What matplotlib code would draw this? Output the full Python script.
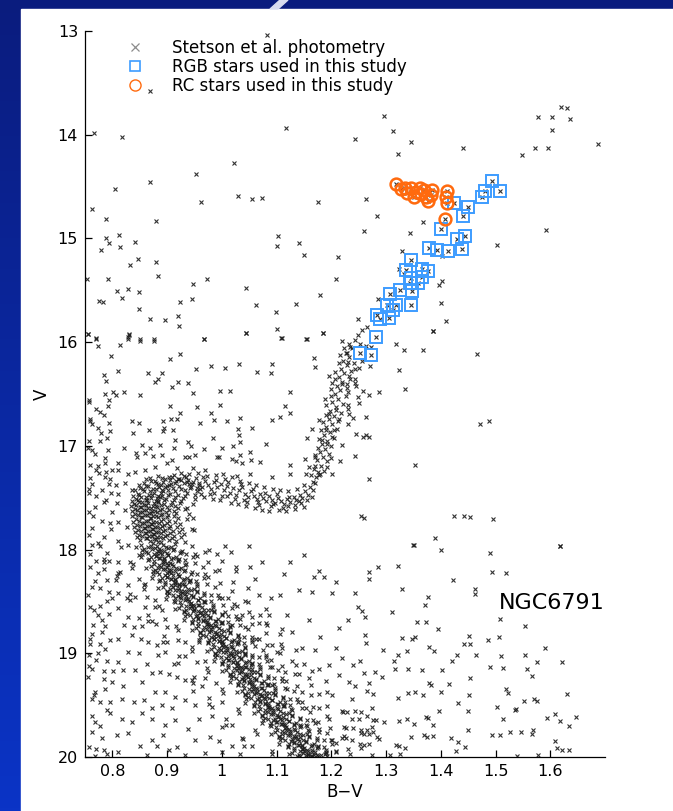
import numpy as np
import matplotlib

matplotlib.use("Agg")
import matplotlib.pyplot as plt
from matplotlib.lines import Line2D
from matplotlib.patches import Rectangle, Polygon

# ---- data: (B-V, V) ----
upper_field = [
    (1.083, 13.04), (0.869, 13.58),
    (0.767, 13.98), (0.818, 14.02), (1.118, 13.94), (1.023, 14.27), (0.952, 14.38), (0.868, 14.46),
    (0.804, 14.52), (1.030, 14.59), (1.056, 14.62), (1.074, 14.61), (0.962, 14.65), (1.176, 14.65),
    (0.763, 14.72), (0.788, 14.81), (0.879, 14.83), (0.812, 14.97), (0.788, 15.00), (0.793, 15.04),
    (0.842, 15.03), (0.814, 15.08), (0.779, 15.11), (1.103, 14.98), (1.101, 15.07), (1.141, 15.04),
    (1.150, 15.16), (1.213, 15.18), (0.846, 15.20), (0.832, 15.26), (0.879, 15.23), (0.883, 15.36),
    (0.754, 15.39), (0.792, 15.39), (0.948, 15.44), (0.973, 15.39), (1.044, 15.48), (1.209, 15.39),
    (0.808, 15.51), (0.828, 15.49), (0.848, 15.52), (0.817, 15.57), (0.775, 15.60), (0.782, 15.61),
    (0.923, 15.61), (0.945, 15.58), (1.063, 15.64), (1.135, 15.63), (1.179, 15.55), (0.848, 15.68),
    (1.099, 15.71), (0.869, 15.78), (0.897, 15.79), (0.920, 15.75), (0.922, 15.84), (1.100, 15.87),
    (0.755, 15.92), (0.830, 15.93), (1.045, 15.91), (1.184, 15.91), (0.771, 15.96), (0.828, 15.97),
    (0.851, 15.97), (0.876, 15.97), (0.968, 15.97), (1.108, 15.96), (1.154, 15.97),
    (1.297, 13.82), (1.313, 13.96), (1.244, 14.04), (1.346, 14.07), (1.322, 14.19), (1.440, 14.13),
    (1.548, 14.20), (1.572, 14.13), (1.596, 14.13), (1.578, 13.83), (1.603, 13.83), (1.619, 13.73),
    (1.631, 13.74), (1.636, 13.85), (1.603, 13.95), (1.687, 14.09), (1.263, 14.62), (1.283, 14.78),
    (1.260, 14.93), (1.344, 14.95), (1.367, 14.84), (1.329, 15.12), (1.403, 15.17), (1.592, 14.92),
    (1.503, 15.06), (1.324, 15.29), (1.333, 15.34), (1.403, 15.41), (1.397, 15.45), (1.285, 15.58),
    (1.401, 15.62), (1.248, 15.78), (1.266, 15.85), (1.385, 15.89), (1.409, 15.80),
]

mid_field = [
    (0.756, 15.92), (0.771, 15.97), (0.774, 16.04), (0.814, 16.03), (0.829, 15.95), (0.831, 15.92),
    (0.851, 15.99), (0.876, 15.99), (0.968, 15.97), (1.045, 15.91), (1.109, 15.96), (1.155, 15.97),
    (1.185, 15.91), (1.220, 15.99), (0.798, 16.13), (0.923, 16.11), (0.906, 16.16), (0.811, 16.28),
    (0.784, 16.32), (0.788, 16.37), (0.866, 16.30), (0.890, 16.30), (0.877, 16.38), (0.884, 16.36),
    (0.920, 16.38), (0.938, 16.39), (0.953, 16.26), (0.980, 16.23), (1.005, 16.25), (1.032, 16.21),
    (1.064, 16.29), (1.089, 16.30), (1.092, 16.21), (1.168, 16.15), (1.171, 16.24), (1.196, 16.33),
    (1.202, 16.39), (1.219, 16.40), (0.757, 16.56), (0.787, 16.50), (0.802, 16.48), (0.806, 16.51),
    (0.822, 16.48), (0.793, 16.56), (0.792, 16.62), (0.777, 16.67), (0.759, 16.74), (0.851, 16.51),
    (0.909, 16.43), (0.948, 16.49), (0.997, 16.47), (1.014, 16.47), (0.906, 16.62), (0.923, 16.68),
    (0.955, 16.63), (0.981, 16.68), (0.997, 16.61), (1.116, 16.62), (1.125, 16.68), (1.124, 16.48),
    (1.188, 16.55), (1.196, 16.69), (1.208, 16.65), (1.214, 16.74), (1.107, 16.72), (1.092, 16.75),
    (0.759, 16.76), (0.774, 16.83), (0.793, 16.78), (0.796, 16.86), (0.835, 16.76), (0.848, 16.78),
    (0.837, 16.88), (0.867, 16.85), (0.892, 16.76), (0.908, 16.74), (0.918, 16.74), (0.895, 16.83),
    (0.893, 16.86), (0.910, 16.85), (0.961, 16.78), (0.985, 16.75), (1.009, 16.76), (1.034, 16.73),
    (1.030, 16.84), (1.055, 16.83), (1.031, 16.90), (0.984, 16.92), (1.020, 17.00), (1.000, 17.02),
    (1.034, 16.96), (1.081, 16.98), (1.155, 16.92), (1.165, 16.84), (1.177, 16.75), (1.190, 16.85),
    (1.205, 16.85), (1.193, 16.98), (1.202, 16.91), (1.183, 16.94), (1.220, 16.99), (0.758, 16.95),
    (0.777, 16.95), (0.792, 17.04), (0.762, 17.04), (0.821, 17.02), (0.855, 16.99), (0.869, 17.02),
    (0.887, 16.99), (0.912, 17.02), (0.914, 16.94), (0.939, 16.96), (0.944, 17.00), (0.843, 17.07),
    (0.845, 17.11), (0.860, 17.07), (0.875, 17.10), (0.890, 17.09), (0.900, 17.17), (0.909, 17.14),
    (0.918, 17.21), (0.933, 17.11), (0.940, 17.11), (0.951, 17.09), (0.967, 17.03), (0.991, 17.11),
    (0.995, 17.11), (1.019, 17.13), (1.034, 17.09), (1.025, 17.15), (1.037, 17.17), (1.052, 17.06),
    (1.054, 17.14), (1.070, 17.16), (1.125, 17.18), (1.152, 17.13), (1.170, 17.11), (1.171, 17.19),
    (1.193, 17.20), (1.199, 17.12), (1.215, 17.15), (0.774, 17.19), (0.787, 17.17), (0.811, 17.17),
    (0.771, 17.23), (0.799, 17.23), (0.811, 17.23), (0.788, 17.25), (0.829, 17.27), (0.842, 17.25),
    (0.860, 17.23), (0.878, 17.20), (0.948, 17.21), (0.970, 17.23), (1.002, 17.27), (1.028, 17.29),
    (1.052, 17.27), (1.092, 17.30), (1.125, 17.27), (1.153, 17.27), (1.177, 17.28), (1.202, 17.27),
    (0.759, 17.31), (0.787, 17.30), (0.762, 17.37), (0.793, 17.37), (0.806, 17.38), (0.823, 17.36),
    (0.757, 17.45), (0.781, 17.43), (0.798, 17.45), (0.811, 17.46), (0.835, 17.43), (0.784, 17.54),
    (0.808, 17.55), (0.768, 17.59), (0.823, 17.62), (0.757, 17.64), (0.799, 17.64), (0.796, 17.74),
    (0.811, 17.73), (0.762, 17.79), (0.826, 17.78), (0.784, 17.88), (0.811, 17.92), (0.762, 17.96),
    (0.829, 17.96), (0.777, 17.97),
    (0.758, 16.58), (0.771, 16.64), (0.784, 16.70), (0.763, 16.79), (0.779, 16.88), (0.791, 16.92),
    (0.756, 17.02), (0.768, 17.08), (0.787, 17.12), (0.760, 17.18), (0.775, 17.26), (0.795, 17.32),
    (0.757, 17.42), (0.771, 17.48), (0.789, 17.52), (0.764, 17.68), (0.781, 17.72), (0.797, 17.80),
    (0.758, 17.86), (0.774, 17.94),
    (1.385, 15.89), (1.235, 16.05), (1.229, 16.10), (1.264, 16.04), (1.272, 16.05), (1.319, 16.02),
    (1.332, 16.08), (1.368, 16.08), (1.467, 16.11), (1.230, 16.19), (1.256, 16.18), (1.271, 16.23),
    (1.244, 16.26), (1.250, 16.25), (1.324, 16.27), (1.233, 16.33), (1.243, 16.36), (1.244, 16.39),
    (1.246, 16.42), (1.229, 16.40), (1.334, 16.45), (1.231, 16.48), (1.258, 16.47), (1.269, 16.51),
    (1.288, 16.48), (1.249, 16.53), (1.251, 16.59), (1.231, 16.61), (1.231, 16.64), (1.233, 16.69),
    (1.239, 16.73), (1.264, 16.72), (1.231, 16.79), (1.471, 16.79), (1.488, 16.76), (1.246, 16.89),
    (1.258, 16.91), (1.263, 16.90), (1.268, 16.91), (1.243, 17.10), (1.352, 17.18), (1.269, 17.32),
    (1.255, 17.68), (1.260, 17.70), (1.425, 17.68), (1.442, 17.68), (1.453, 17.69), (1.495, 17.71),
    (1.390, 17.89), (1.350, 17.96), (1.617, 17.97),
]

low_field = [
    (0.771, 18.11), (0.759, 18.17), (0.784, 18.12), (0.793, 18.11), (0.811, 18.12), (0.832, 18.12),
    (0.848, 18.05), (0.774, 18.23), (0.790, 18.29), (0.808, 18.25), (0.814, 18.22), (0.848, 18.28),
    (0.860, 18.33), (0.829, 18.34), (0.762, 18.36), (0.777, 18.37), (0.793, 18.41), (0.811, 18.42),
    (0.799, 18.47), (0.826, 18.47), (0.842, 18.46), (0.863, 18.46), (0.878, 18.49), (0.759, 18.55),
    (0.777, 18.54), (0.811, 18.56), (0.860, 18.55), (0.878, 18.55), (0.774, 18.63), (0.793, 18.62),
    (0.829, 18.65), (0.848, 18.66), (0.872, 18.69), (0.897, 18.67), (0.765, 18.73), (0.787, 18.74),
    (0.822, 18.73), (0.839, 18.75), (0.855, 18.74), (0.879, 18.72), (0.900, 18.75), (0.762, 18.81),
    (0.781, 18.79), (0.796, 18.87), (0.811, 18.86), (0.759, 18.91), (0.777, 18.91), (0.835, 18.82),
    (0.853, 18.86), (0.866, 18.89), (0.881, 18.92), (0.900, 18.89), (0.920, 18.87), (0.933, 18.89),
    (0.958, 18.89), (0.757, 19.02), (0.774, 19.00), (0.790, 19.07), (0.811, 19.08), (0.828, 18.99),
    (0.848, 19.00), (0.863, 19.10), (0.884, 19.02), (0.897, 18.99), (0.912, 19.10), (0.932, 19.03),
    (0.955, 19.08), (0.970, 19.07), (0.762, 19.15), (0.784, 19.17), (0.802, 19.17), (0.820, 19.16),
    (0.842, 19.16), (0.872, 19.19), (0.887, 19.18), (0.903, 19.20), (0.918, 19.23), (0.932, 19.26),
    (0.945, 19.26), (0.970, 19.24), (0.989, 19.29), (0.756, 19.23), (0.768, 19.37), (0.787, 19.34),
    (0.799, 19.28), (0.820, 19.32), (0.854, 19.28), (0.878, 19.37), (0.897, 19.37), (0.914, 19.42),
    (0.948, 19.36), (0.964, 19.32), (0.762, 19.44), (0.777, 19.47), (0.796, 19.47), (0.817, 19.44),
    (0.839, 19.47), (0.857, 19.45), (0.872, 19.53), (0.890, 19.50), (0.909, 19.53), (0.933, 19.45),
    (0.951, 19.50), (0.982, 19.52), (1.000, 19.47), (0.768, 19.66), (0.796, 19.58), (0.817, 19.63),
    (0.835, 19.66), (0.854, 19.58), (0.872, 19.63), (0.897, 19.69), (0.915, 19.64), (0.939, 19.73),
    (0.958, 19.63), (0.982, 19.60), (1.000, 19.71), (1.019, 19.69), (0.762, 19.76), (0.781, 19.82),
    (0.808, 19.79), (0.829, 19.77), (0.851, 19.89), (0.872, 19.84), (0.881, 19.89), (0.893, 19.79),
    (0.918, 19.90), (0.951, 19.84), (0.979, 19.81), (0.994, 19.85), (1.019, 19.89), (1.037, 19.82),
    (1.055, 19.89), (0.771, 19.92), (0.790, 19.97), (0.811, 19.95), (0.863, 19.98), (0.903, 19.93),
    (0.933, 19.98), (0.970, 19.96), (1.000, 19.95), (1.034, 19.97), (1.092, 19.97),
    (0.760, 18.04), (0.785, 18.19), (0.769, 18.30), (0.756, 18.44), (0.790, 18.50), (0.767, 18.58),
    (0.781, 18.68), (0.759, 18.86), (0.786, 18.96), (0.771, 19.06), (0.757, 19.12), (0.784, 19.25),
    (0.766, 19.40), (0.791, 19.55), (0.762, 19.60), (0.778, 19.70), (0.757, 19.90), (0.785, 19.93),
    (0.769, 19.99),
    (0.927, 18.01), (0.970, 18.02), (0.991, 18.04), (1.016, 18.02), (1.049, 17.97), (1.074, 18.12),
    (1.125, 18.12), (1.150, 18.05), (1.177, 18.21), (1.186, 18.26), (1.208, 18.31), (0.988, 18.21),
    (1.025, 18.21), (1.052, 18.17), (1.061, 18.28), (1.113, 18.24), (1.168, 18.26), (1.202, 18.42),
    (1.141, 18.39), (1.165, 18.41), (1.107, 18.44), (1.089, 18.47), (1.067, 18.44), (1.043, 18.50),
    (1.028, 18.54), (1.012, 18.47), (1.006, 18.60), (1.037, 18.63), (1.055, 18.65), (1.070, 18.63),
    (1.086, 18.63), (1.119, 18.63), (1.159, 18.68), (1.180, 18.84), (1.214, 18.76), (1.019, 18.73),
    (1.043, 18.75), (1.067, 18.71), (1.083, 18.73), (1.107, 18.81), (1.128, 18.79), (1.031, 18.86),
    (1.055, 18.89), (1.067, 18.86), (1.092, 18.92), (1.110, 18.95), (1.147, 18.95), (1.171, 18.97),
    (1.208, 18.95), (1.220, 19.05), (1.043, 19.02), (1.080, 19.02), (1.101, 18.99), (1.128, 19.07),
    (1.150, 19.10), (1.177, 19.15), (1.196, 19.11), (1.214, 19.21), (1.055, 19.15), (1.092, 19.13),
    (1.116, 19.18), (1.141, 19.20), (1.159, 19.24), (1.190, 19.27), (1.092, 19.31), (1.119, 19.34),
    (1.147, 19.37), (1.177, 19.39), (1.202, 19.40), (1.116, 19.47), (1.153, 19.53), (1.177, 19.53),
    (1.196, 19.63), (1.220, 19.56), (1.153, 19.69), (1.177, 19.76), (1.202, 19.84), (1.220, 19.82),
    (1.190, 19.95), (1.208, 19.95), (1.147, 19.92),
    (1.351, 17.96), (1.401, 18.00), (1.489, 18.03), (1.618, 17.97), (1.286, 18.17), (1.269, 18.22),
    (1.269, 18.28), (1.322, 18.16), (1.493, 18.22), (1.520, 18.23), (1.244, 18.42), (1.329, 18.38),
    (1.422, 18.29), (1.463, 18.38), (1.462, 18.43), (1.249, 18.55), (1.256, 18.59), (1.311, 18.60),
    (1.376, 18.46), (1.371, 18.53), (1.231, 18.68), (1.261, 18.65), (1.356, 18.70), (1.373, 18.70),
    (1.394, 18.77), (1.508, 18.67), (1.554, 18.74), (1.261, 18.82), (1.263, 18.90), (1.329, 18.85),
    (1.348, 18.86), (1.352, 18.84), (1.451, 18.83), (1.443, 18.91), (1.454, 18.91), (1.487, 18.87),
    (1.506, 18.84), (1.294, 18.97), (1.338, 18.98), (1.379, 18.94), (1.387, 18.98), (1.429, 19.02),
    (1.465, 19.02), (1.590, 18.95), (1.239, 19.11), (1.253, 19.07), (1.315, 19.07), (1.322, 19.02),
    (1.316, 19.15), (1.341, 19.15), (1.366, 19.16), (1.403, 19.16), (1.421, 19.07), (1.490, 19.13),
    (1.510, 19.03), (1.513, 19.14), (1.553, 19.02), (1.575, 19.08), (1.622, 19.08), (1.557, 19.15),
    (1.260, 19.19), (1.280, 19.18), (1.292, 19.23), (1.454, 19.24), (1.567, 19.22), (1.232, 19.28),
    (1.244, 19.32), (1.268, 19.29), (1.266, 19.36), (1.276, 19.39), (1.340, 19.38), (1.353, 19.37),
    (1.368, 19.40), (1.379, 19.29), (1.383, 19.31), (1.400, 19.37), (1.415, 19.30), (1.451, 19.40),
    (1.322, 19.43), (1.520, 19.34), (1.523, 19.38), (1.571, 19.44), (1.575, 19.46), (1.552, 19.46),
    (1.631, 19.39), (1.237, 19.44), (1.275, 19.53), (1.432, 19.48), (1.502, 19.52), (1.537, 19.54),
    (1.536, 19.55), (1.229, 19.57), (1.244, 19.56), (1.255, 19.57), (1.266, 19.60), (1.276, 19.64),
    (1.238, 19.63), (1.250, 19.63), (1.282, 19.64), (1.297, 19.66), (1.324, 19.65), (1.338, 19.63),
    (1.351, 19.68), (1.373, 19.61), (1.376, 19.62), (1.396, 19.56), (1.386, 19.69), (1.449, 19.56),
    (1.513, 19.63), (1.594, 19.62), (1.608, 19.59), (1.617, 19.65), (1.635, 19.70), (1.647, 19.61),
    (1.226, 19.72), (1.239, 19.72), (1.255, 19.74), (1.266, 19.74), (1.275, 19.71), (1.260, 19.78),
    (1.268, 19.78), (1.276, 19.76), (1.345, 19.81), (1.374, 19.81), (1.370, 19.79), (1.386, 19.80),
    (1.418, 19.82), (1.432, 19.86), (1.449, 19.74), (1.493, 19.79), (1.508, 19.79), (1.526, 19.76),
    (1.547, 19.76), (1.568, 19.74), (1.567, 19.78), (1.608, 19.85), (1.226, 19.82), (1.238, 19.84),
    (1.252, 19.87), (1.260, 19.88), (1.268, 19.87), (1.284, 19.81), (1.287, 19.83), (1.318, 19.88),
    (1.324, 19.89), (1.334, 19.91), (1.427, 19.94), (1.445, 19.90), (1.612, 19.91), (1.622, 19.93),
    (1.634, 19.93), (1.235, 19.97), (1.274, 19.98), (1.308, 19.98), (1.326, 19.97), (1.539, 19.99),
    (1.578, 19.98),
]

turnoff = [
    (0.868, 17.31), (0.884, 17.29), (0.897, 17.32), (0.909, 17.30), (0.925, 17.33),
    (0.857, 17.36), (0.871, 17.34), (0.883, 17.37), (0.892, 17.35), (0.903, 17.38), (0.916, 17.34), (0.931, 17.36), (0.948, 17.35),
    (0.851, 17.41), (0.862, 17.39), (0.874, 17.42), (0.885, 17.40), (0.891, 17.43), (0.899, 17.39), (0.910, 17.41), (0.926, 17.42), (0.944, 17.40),
    (0.846, 17.46), (0.858, 17.44), (0.867, 17.47), (0.876, 17.45), (0.884, 17.48), (0.893, 17.44), (0.905, 17.46), (0.919, 17.47), (0.937, 17.45),
    (0.843, 17.51), (0.852, 17.49), (0.861, 17.52), (0.870, 17.50), (0.879, 17.53), (0.887, 17.49), (0.898, 17.51), (0.912, 17.52), (0.929, 17.50),
    (0.839, 17.56), (0.849, 17.54), (0.857, 17.57), (0.866, 17.55), (0.874, 17.58), (0.883, 17.54), (0.894, 17.56), (0.907, 17.57), (0.924, 17.55), (0.948, 17.56),
    (0.841, 17.61), (0.850, 17.59), (0.858, 17.62), (0.865, 17.60), (0.873, 17.63), (0.881, 17.59), (0.891, 17.61), (0.903, 17.62), (0.919, 17.60),
    (0.842, 17.66), (0.851, 17.64), (0.859, 17.67), (0.867, 17.65), (0.874, 17.68), (0.882, 17.64), (0.891, 17.66), (0.902, 17.67), (0.917, 17.65), (0.940, 17.66),
    (0.844, 17.71), (0.853, 17.69), (0.861, 17.72), (0.868, 17.70), (0.875, 17.73), (0.883, 17.69), (0.892, 17.71), (0.904, 17.72), (0.920, 17.70),
    (0.845, 17.76), (0.855, 17.74), (0.863, 17.77), (0.870, 17.75), (0.877, 17.78), (0.885, 17.74), (0.894, 17.76), (0.906, 17.77), (0.923, 17.75),
    (0.847, 17.81), (0.857, 17.79), (0.865, 17.82), (0.872, 17.80), (0.879, 17.83), (0.887, 17.79), (0.897, 17.81), (0.910, 17.82), (0.928, 17.80),
    (0.849, 17.86), (0.859, 17.84), (0.867, 17.87), (0.874, 17.85), (0.881, 17.88), (0.889, 17.84), (0.900, 17.86), (0.913, 17.87), (0.931, 17.85),
    (0.851, 17.91), (0.861, 17.89), (0.869, 17.92), (0.876, 17.90), (0.884, 17.93), (0.892, 17.89), (0.903, 17.91), (0.917, 17.92),
    (0.862, 17.32), (0.878, 17.34), (0.891, 17.31), (0.906, 17.33), (0.919, 17.32), (0.934, 17.30),
    (0.848, 17.38), (0.866, 17.39), (0.879, 17.36), (0.888, 17.38), (0.897, 17.40), (0.908, 17.37), (0.922, 17.39), (0.940, 17.37), (0.958, 17.38),
    (0.842, 17.43), (0.856, 17.42), (0.868, 17.44), (0.880, 17.42), (0.889, 17.45), (0.901, 17.43), (0.914, 17.44), (0.932, 17.43), (0.955, 17.41),
    (0.838, 17.48), (0.849, 17.47), (0.862, 17.49), (0.873, 17.47), (0.881, 17.50), (0.890, 17.48), (0.902, 17.47), (0.915, 17.49), (0.933, 17.48), (0.962, 17.46),
    (0.836, 17.53), (0.846, 17.52), (0.855, 17.54), (0.864, 17.52), (0.876, 17.55), (0.884, 17.53), (0.895, 17.52), (0.909, 17.54), (0.926, 17.53), (0.951, 17.51),
    (0.834, 17.58), (0.844, 17.57), (0.853, 17.59), (0.862, 17.57), (0.870, 17.60), (0.879, 17.58), (0.888, 17.57), (0.900, 17.59), (0.914, 17.58), (0.937, 17.60),
    (0.835, 17.63), (0.845, 17.62), (0.854, 17.64), (0.862, 17.62), (0.870, 17.65), (0.878, 17.63), (0.887, 17.62), (0.898, 17.64), (0.912, 17.63), (0.933, 17.61),
    (0.836, 17.68), (0.846, 17.67), (0.855, 17.69), (0.863, 17.67), (0.871, 17.70), (0.879, 17.68), (0.888, 17.67), (0.899, 17.69), (0.913, 17.68), (0.947, 17.70),
    (0.838, 17.73), (0.848, 17.72), (0.857, 17.74), (0.865, 17.72), (0.872, 17.75), (0.880, 17.73), (0.889, 17.72), (0.900, 17.74), (0.915, 17.73), (0.936, 17.71),
    (0.840, 17.78), (0.850, 17.77), (0.859, 17.79), (0.867, 17.77), (0.874, 17.80), (0.882, 17.78), (0.891, 17.77), (0.903, 17.79), (0.918, 17.78), (0.945, 17.80),
    (0.842, 17.83), (0.852, 17.82), (0.861, 17.84), (0.869, 17.82), (0.876, 17.85), (0.884, 17.83), (0.893, 17.82), (0.906, 17.84), (0.921, 17.83), (0.950, 17.81),
    (0.845, 17.88), (0.855, 17.87), (0.864, 17.89), (0.872, 17.87), (0.879, 17.90), (0.887, 17.88), (0.896, 17.87), (0.909, 17.89), (0.925, 17.88),
]

main_seq = [
    (0.853, 17.96), (0.865, 17.98), (0.874, 17.94), (0.881, 17.97), (0.888, 17.93), (0.898, 17.98), (0.915, 17.95), (0.933, 17.93),
    (0.862, 18.02), (0.873, 17.99), (0.881, 18.03), (0.888, 18.00), (0.895, 18.01), (0.907, 17.98), (0.926, 18.02),
    (0.855, 18.04), (0.870, 18.07), (0.879, 18.06), (0.887, 18.03), (0.894, 18.08), (0.902, 18.05), (0.916, 18.07), (0.935, 18.04),
    (0.876, 18.11), (0.886, 18.08), (0.893, 18.12), (0.900, 18.13), (0.908, 18.09), (0.919, 18.11), (0.932, 18.10),
    (0.871, 18.16), (0.883, 18.18), (0.892, 18.14), (0.899, 18.17), (0.906, 18.13), (0.916, 18.18), (0.933, 18.15), (0.951, 18.13),
    (0.881, 18.22), (0.892, 18.19), (0.900, 18.23), (0.907, 18.20), (0.914, 18.21), (0.926, 18.18), (0.945, 18.22),
    (0.875, 18.24), (0.890, 18.27), (0.899, 18.26), (0.907, 18.23), (0.914, 18.28), (0.922, 18.25), (0.936, 18.27), (0.955, 18.24),
    (0.897, 18.31), (0.907, 18.28), (0.914, 18.32), (0.921, 18.33), (0.929, 18.29), (0.940, 18.31), (0.953, 18.30),
    (0.893, 18.36), (0.905, 18.38), (0.914, 18.34), (0.921, 18.37), (0.928, 18.33), (0.938, 18.38), (0.955, 18.35), (0.973, 18.33),
    (0.904, 18.42), (0.915, 18.39), (0.923, 18.43), (0.930, 18.40), (0.937, 18.41), (0.949, 18.38), (0.968, 18.42),
    (0.900, 18.44), (0.915, 18.47), (0.924, 18.46), (0.932, 18.43), (0.939, 18.48), (0.947, 18.45), (0.961, 18.47), (0.980, 18.44),
    (0.924, 18.51), (0.934, 18.48), (0.941, 18.52), (0.948, 18.53), (0.956, 18.49), (0.967, 18.51), (0.980, 18.50),
    (0.922, 18.56), (0.934, 18.58), (0.943, 18.54), (0.950, 18.57), (0.957, 18.53), (0.967, 18.58), (0.984, 18.55), (1.002, 18.53),
    (0.936, 18.62), (0.947, 18.59), (0.955, 18.63), (0.962, 18.60), (0.969, 18.61), (0.981, 18.58), (1.000, 18.62),
    (0.932, 18.64), (0.947, 18.67), (0.956, 18.66), (0.964, 18.63), (0.971, 18.68), (0.979, 18.65), (0.993, 18.67), (1.012, 18.64),
    (0.956, 18.71), (0.966, 18.68), (0.973, 18.72), (0.980, 18.73), (0.988, 18.69), (0.999, 18.71), (1.012, 18.70),
    (0.953, 18.76), (0.965, 18.78), (0.974, 18.74), (0.981, 18.77), (0.988, 18.73), (0.998, 18.78), (1.015, 18.75), (1.033, 18.73),
    (0.966, 18.82), (0.977, 18.79), (0.985, 18.83), (0.992, 18.80), (0.999, 18.81), (1.011, 18.78), (1.030, 18.82),
    (0.961, 18.84), (0.976, 18.87), (0.985, 18.86), (0.993, 18.83), (1.000, 18.88), (1.008, 18.85), (1.022, 18.87), (1.041, 18.84),
    (0.984, 18.91), (0.994, 18.88), (1.001, 18.92), (1.008, 18.93), (1.016, 18.89), (1.027, 18.91), (1.040, 18.90),
    (0.981, 18.96), (0.993, 18.98), (1.002, 18.94), (1.009, 18.97), (1.016, 18.93), (1.026, 18.98), (1.043, 18.95), (1.061, 18.93),
    (0.992, 19.02), (1.003, 18.99), (1.011, 19.03), (1.018, 19.00), (1.025, 19.01), (1.037, 18.98), (1.056, 19.02),
    (0.988, 19.04), (1.003, 19.07), (1.012, 19.06), (1.020, 19.03), (1.027, 19.08), (1.035, 19.05), (1.049, 19.07), (1.068, 19.04),
    (1.011, 19.11), (1.021, 19.08), (1.028, 19.12), (1.035, 19.13), (1.043, 19.09), (1.054, 19.11), (1.067, 19.10),
    (1.008, 19.16), (1.020, 19.18), (1.029, 19.14), (1.036, 19.17), (1.043, 19.13), (1.053, 19.18), (1.070, 19.15), (1.088, 19.13),
    (1.020, 19.22), (1.031, 19.19), (1.039, 19.23), (1.046, 19.20), (1.053, 19.21), (1.065, 19.18), (1.084, 19.22),
    (1.016, 19.24), (1.031, 19.27), (1.040, 19.26), (1.048, 19.23), (1.055, 19.28), (1.063, 19.25), (1.077, 19.27), (1.096, 19.24),
    (1.039, 19.31), (1.049, 19.28), (1.056, 19.32), (1.063, 19.33), (1.071, 19.29), (1.082, 19.31), (1.095, 19.30),
    (1.036, 19.36), (1.048, 19.38), (1.057, 19.34), (1.064, 19.37), (1.071, 19.33), (1.081, 19.38), (1.098, 19.35), (1.116, 19.33),
    (1.048, 19.42), (1.059, 19.39), (1.067, 19.43), (1.074, 19.40), (1.081, 19.41), (1.093, 19.38), (1.112, 19.42),
    (1.045, 19.44), (1.060, 19.47), (1.069, 19.46), (1.077, 19.43), (1.084, 19.48), (1.092, 19.45), (1.106, 19.47), (1.125, 19.44),
    (1.068, 19.51), (1.078, 19.48), (1.085, 19.52), (1.092, 19.53), (1.100, 19.49), (1.111, 19.51), (1.124, 19.50),
    (1.066, 19.56), (1.078, 19.58), (1.087, 19.54), (1.094, 19.57), (1.101, 19.53), (1.111, 19.58), (1.128, 19.55), (1.146, 19.53),
    (1.078, 19.62), (1.089, 19.59), (1.097, 19.63), (1.104, 19.60), (1.111, 19.61), (1.123, 19.58), (1.142, 19.62),
    (1.075, 19.64), (1.090, 19.67), (1.099, 19.66), (1.107, 19.63), (1.114, 19.68), (1.122, 19.65), (1.136, 19.67), (1.155, 19.64),
    (1.099, 19.71), (1.109, 19.68), (1.116, 19.72), (1.123, 19.73), (1.131, 19.69), (1.142, 19.71), (1.155, 19.70),
    (1.097, 19.76), (1.109, 19.78), (1.118, 19.74), (1.125, 19.77), (1.132, 19.73), (1.142, 19.78), (1.159, 19.75), (1.177, 19.73),
    (1.110, 19.82), (1.121, 19.79), (1.129, 19.83), (1.136, 19.80), (1.143, 19.81), (1.155, 19.78), (1.174, 19.82),
    (1.107, 19.84), (1.122, 19.87), (1.131, 19.86), (1.139, 19.83), (1.146, 19.88), (1.154, 19.85), (1.168, 19.87), (1.187, 19.84),
    (1.131, 19.91), (1.141, 19.88), (1.148, 19.92), (1.155, 19.93), (1.163, 19.89), (1.174, 19.91), (1.187, 19.90),
    (1.129, 19.96), (1.141, 19.98), (1.150, 19.94), (1.157, 19.97), (1.164, 19.95), (1.174, 19.98), (1.191, 19.96), (1.209, 19.94),
    (1.143, 19.99), (1.154, 19.98), (1.162, 19.99), (1.169, 19.98), (1.176, 19.99), (1.188, 19.97),
]

main_seq_b = [
    (0.843, 17.975), (0.858, 17.995), (0.870, 17.965), (0.878, 17.985), (0.885, 17.995), (0.892, 17.955), (0.902, 17.985), (0.913, 17.995), (0.946, 17.965),
    (0.855, 18.005), (0.866, 18.035), (0.876, 18.045), (0.884, 18.015), (0.891, 18.045), (0.899, 18.035), (0.910, 18.005), (0.924, 18.035),
    (0.852, 18.075), (0.867, 18.095), (0.879, 18.065), (0.887, 18.085), (0.894, 18.095), (0.901, 18.055), (0.911, 18.085), (0.922, 18.095), (0.955, 18.065),
    (0.865, 18.105), (0.876, 18.135), (0.886, 18.145), (0.894, 18.115), (0.901, 18.145), (0.909, 18.135), (0.920, 18.105), (0.934, 18.135),
    (0.862, 18.175), (0.877, 18.195), (0.889, 18.165), (0.897, 18.185), (0.904, 18.195), (0.911, 18.155), (0.921, 18.185), (0.932, 18.195), (0.965, 18.165),
    (0.875, 18.205), (0.886, 18.235), (0.896, 18.245), (0.904, 18.215), (0.911, 18.245), (0.919, 18.235), (0.930, 18.205), (0.944, 18.235),
    (0.872, 18.275), (0.887, 18.295), (0.899, 18.265), (0.907, 18.285), (0.914, 18.295), (0.921, 18.255), (0.931, 18.285), (0.942, 18.295), (0.975, 18.265),
    (0.886, 18.305), (0.897, 18.335), (0.907, 18.345), (0.915, 18.315), (0.922, 18.345), (0.930, 18.335), (0.941, 18.305), (0.955, 18.335),
    (0.884, 18.375), (0.899, 18.395), (0.911, 18.365), (0.919, 18.385), (0.926, 18.395), (0.933, 18.355), (0.943, 18.385), (0.954, 18.395), (0.987, 18.365),
    (0.899, 18.405), (0.910, 18.435), (0.920, 18.445), (0.928, 18.415), (0.935, 18.445), (0.943, 18.435), (0.954, 18.405), (0.968, 18.435),
    (0.898, 18.475), (0.913, 18.495), (0.925, 18.465), (0.933, 18.485), (0.940, 18.495), (0.947, 18.455), (0.957, 18.485), (0.968, 18.495), (1.001, 18.465),
    (0.914, 18.505), (0.925, 18.535), (0.935, 18.545), (0.943, 18.515), (0.950, 18.545), (0.958, 18.535), (0.969, 18.505), (0.983, 18.535),
    (0.915, 18.575), (0.930, 18.595), (0.942, 18.565), (0.950, 18.585), (0.957, 18.595), (0.964, 18.555), (0.974, 18.585), (0.985, 18.595), (1.018, 18.565),
    (0.931, 18.605), (0.942, 18.635), (0.952, 18.645), (0.960, 18.615), (0.967, 18.645), (0.975, 18.635), (0.986, 18.605), (1.000, 18.635),
    (0.930, 18.675), (0.945, 18.695), (0.957, 18.665), (0.965, 18.685), (0.972, 18.695), (0.979, 18.655), (0.989, 18.685), (1.000, 18.695), (1.033, 18.665),
    (0.946, 18.705), (0.957, 18.735), (0.967, 18.745), (0.975, 18.715), (0.982, 18.745), (0.990, 18.735), (1.001, 18.705), (1.015, 18.735),
    (0.945, 18.775), (0.960, 18.795), (0.972, 18.765), (0.980, 18.785), (0.987, 18.795), (0.994, 18.755), (1.004, 18.785), (1.015, 18.795), (1.048, 18.765),
    (0.960, 18.805), (0.971, 18.835), (0.981, 18.845), (0.989, 18.815), (0.996, 18.845), (1.004, 18.835), (1.015, 18.805), (1.029, 18.835),
    (0.959, 18.875), (0.974, 18.895), (0.986, 18.865), (0.994, 18.885), (1.001, 18.895), (1.008, 18.855), (1.018, 18.885), (1.029, 18.895), (1.062, 18.865),
    (0.974, 18.905), (0.985, 18.935), (0.995, 18.945), (1.003, 18.915), (1.010, 18.945), (1.018, 18.935), (1.029, 18.905), (1.043, 18.935),
    (0.972, 18.975), (0.987, 18.995), (0.999, 18.965), (1.007, 18.985), (1.014, 18.995), (1.021, 18.955), (1.031, 18.985), (1.042, 18.995), (1.075, 18.965),
    (0.987, 19.005), (0.998, 19.035), (1.008, 19.045), (1.016, 19.015), (1.023, 19.045), (1.031, 19.035), (1.042, 19.005), (1.056, 19.035),
    (0.986, 19.075), (1.001, 19.095), (1.013, 19.065), (1.021, 19.085), (1.028, 19.095), (1.035, 19.055), (1.045, 19.085), (1.056, 19.095), (1.089, 19.065),
    (1.001, 19.105), (1.012, 19.135), (1.022, 19.145), (1.030, 19.115), (1.037, 19.145), (1.045, 19.135), (1.056, 19.105), (1.070, 19.135),
    (1.000, 19.175), (1.015, 19.195), (1.027, 19.165), (1.035, 19.185), (1.042, 19.195), (1.049, 19.155), (1.059, 19.185), (1.070, 19.195), (1.103, 19.165),
    (1.015, 19.205), (1.026, 19.235), (1.036, 19.245), (1.044, 19.215), (1.051, 19.245), (1.059, 19.235), (1.070, 19.205), (1.084, 19.235),
    (1.014, 19.275), (1.029, 19.295), (1.041, 19.265), (1.049, 19.285), (1.056, 19.295), (1.063, 19.255), (1.073, 19.285), (1.084, 19.295), (1.117, 19.265),
    (1.029, 19.305), (1.040, 19.335), (1.050, 19.345), (1.058, 19.315), (1.065, 19.345), (1.073, 19.335), (1.084, 19.305), (1.098, 19.335),
    (1.028, 19.375), (1.043, 19.395), (1.055, 19.365), (1.063, 19.385), (1.070, 19.395), (1.077, 19.355), (1.087, 19.385), (1.098, 19.395), (1.131, 19.365),
    (1.043, 19.405), (1.054, 19.435), (1.064, 19.445), (1.072, 19.415), (1.079, 19.445), (1.087, 19.435), (1.098, 19.405), (1.112, 19.435),
    (1.043, 19.475), (1.058, 19.495), (1.070, 19.465), (1.078, 19.485), (1.085, 19.495), (1.092, 19.455), (1.102, 19.485), (1.113, 19.495), (1.146, 19.465),
    (1.058, 19.505), (1.069, 19.535), (1.079, 19.545), (1.087, 19.515), (1.094, 19.545), (1.102, 19.535), (1.113, 19.505), (1.127, 19.535),
    (1.058, 19.575), (1.073, 19.595), (1.085, 19.565), (1.093, 19.585), (1.100, 19.595), (1.107, 19.555), (1.117, 19.585), (1.128, 19.595), (1.161, 19.565),
    (1.073, 19.605), (1.084, 19.635), (1.094, 19.645), (1.102, 19.615), (1.109, 19.645), (1.117, 19.635), (1.128, 19.605), (1.142, 19.635),
    (1.073, 19.675), (1.088, 19.695), (1.100, 19.665), (1.108, 19.685), (1.115, 19.695), (1.122, 19.655), (1.132, 19.685), (1.143, 19.695), (1.176, 19.665),
    (1.089, 19.705), (1.100, 19.735), (1.110, 19.745), (1.118, 19.715), (1.125, 19.745), (1.133, 19.735), (1.144, 19.705), (1.158, 19.735),
    (1.089, 19.775), (1.104, 19.795), (1.116, 19.765), (1.124, 19.785), (1.131, 19.795), (1.138, 19.755), (1.148, 19.785), (1.159, 19.795), (1.192, 19.765),
    (1.105, 19.805), (1.116, 19.835), (1.126, 19.845), (1.134, 19.815), (1.141, 19.845), (1.149, 19.835), (1.160, 19.805), (1.174, 19.835),
    (1.105, 19.875), (1.120, 19.895), (1.132, 19.865), (1.140, 19.885), (1.147, 19.895), (1.154, 19.855), (1.164, 19.885), (1.175, 19.895), (1.208, 19.865),
    (1.121, 19.905), (1.132, 19.935), (1.142, 19.945), (1.150, 19.915), (1.157, 19.945), (1.165, 19.935), (1.176, 19.905), (1.190, 19.935),
    (1.122, 19.975), (1.137, 19.995), (1.149, 19.965), (1.157, 19.985), (1.164, 19.995), (1.171, 19.955), (1.181, 19.985), (1.192, 19.995),
]

main_seq_halo = [
    (0.791, 18.03), (0.816, 17.98), (0.951, 18.04), (0.976, 18.00), (1.006, 17.97),
    (0.785, 18.09), (0.837, 18.14), (0.947, 18.07), (0.975, 18.12), (1.000, 18.11),
    (0.810, 18.23), (0.835, 18.18), (0.970, 18.24), (0.995, 18.20), (1.025, 18.17),
    (0.806, 18.29), (0.858, 18.34), (0.968, 18.27), (0.996, 18.32), (1.021, 18.31),
    (0.833, 18.43), (0.858, 18.38), (0.993, 18.44), (1.018, 18.40), (1.048, 18.37),
    (0.833, 18.49), (0.885, 18.54), (0.995, 18.47), (1.023, 18.52), (1.048, 18.51),
    (0.865, 18.63), (0.890, 18.58), (1.025, 18.64), (1.050, 18.60), (1.080, 18.57),
    (0.865, 18.69), (0.917, 18.74), (1.027, 18.67), (1.055, 18.72), (1.080, 18.71),
    (0.895, 18.83), (0.920, 18.78), (1.055, 18.84), (1.080, 18.80), (1.110, 18.77),
    (0.893, 18.89), (0.945, 18.94), (1.055, 18.87), (1.083, 18.92), (1.108, 18.91),
    (0.921, 19.03), (0.946, 18.98), (1.081, 19.04), (1.106, 19.00), (1.136, 18.97),
    (0.920, 19.09), (0.972, 19.14), (1.082, 19.07), (1.110, 19.12), (1.135, 19.11),
    (0.949, 19.23), (0.974, 19.18), (1.109, 19.24), (1.134, 19.20), (1.164, 19.17),
    (0.948, 19.29), (1.000, 19.34), (1.110, 19.27), (1.138, 19.32), (1.163, 19.31),
    (0.977, 19.43), (1.002, 19.38), (1.137, 19.44), (1.162, 19.40), (1.192, 19.37),
    (0.977, 19.49), (1.029, 19.54), (1.139, 19.47), (1.167, 19.52), (1.192, 19.51),
    (1.007, 19.63), (1.032, 19.58), (1.167, 19.64), (1.192, 19.60), (1.222, 19.57),
    (1.008, 19.69), (1.060, 19.74), (1.170, 19.67), (1.198, 19.72), (1.223, 19.71),
    (1.039, 19.83), (1.064, 19.78), (1.199, 19.84), (1.224, 19.80), (1.254, 19.77),
    (1.040, 19.89), (1.092, 19.94), (1.202, 19.87), (1.230, 19.92), (1.255, 19.91),
]

subgiant = [
    (0.938, 17.33), (0.945, 17.37), (0.952, 17.31), (0.958, 17.36), (0.963, 17.40), (0.969, 17.34),
    (0.975, 17.38), (0.981, 17.42), (0.986, 17.35), (0.992, 17.40), (0.998, 17.37), (1.004, 17.43),
    (1.009, 17.39), (1.015, 17.45), (1.021, 17.41), (1.026, 17.47), (1.031, 17.43), (1.037, 17.40),
    (1.042, 17.46), (1.048, 17.49), (1.053, 17.44), (1.059, 17.48), (1.064, 17.51), (1.070, 17.46),
    (1.075, 17.50), (1.081, 17.53), (1.086, 17.48), (1.092, 17.52), (1.097, 17.55), (1.103, 17.50),
    (1.108, 17.53), (1.114, 17.56), (1.119, 17.51), (1.125, 17.54), (1.131, 17.49), (1.136, 17.52),
    (1.142, 17.47), (1.147, 17.50), (1.152, 17.44), (1.157, 17.47), (1.161, 17.40), (1.166, 17.43),
    (1.170, 17.36), (0.942, 17.41), (0.955, 17.44), (0.966, 17.30), (0.978, 17.46), (0.990, 17.33),
    (1.001, 17.48), (1.012, 17.35), (1.024, 17.51), (1.035, 17.37), (1.046, 17.54), (1.057, 17.42),
    (1.068, 17.57), (1.079, 17.45), (1.090, 17.58), (1.101, 17.46), (1.112, 17.60), (1.123, 17.49),
    (1.134, 17.57), (1.145, 17.55), (1.156, 17.52), (1.164, 17.49), (0.903, 17.30), (0.913, 17.28),
    (0.921, 17.32), (0.930, 17.29), (0.936, 17.35), (0.915, 17.36),
    (0.925, 17.26), (0.940, 17.27), (0.957, 17.26), (0.972, 17.29), (0.989, 17.28), (1.006, 17.32),
    (1.019, 17.30), (1.033, 17.34), (1.050, 17.36), (1.062, 17.38), (1.077, 17.40), (1.094, 17.42),
    (1.106, 17.43), (1.121, 17.44), (1.138, 17.42), (1.150, 17.38), (0.951, 17.47), (0.967, 17.49),
    (0.984, 17.51), (0.997, 17.52), (1.017, 17.55), (1.030, 17.56), (1.044, 17.58), (1.060, 17.60),
    (1.073, 17.62), (1.087, 17.63), (1.105, 17.62), (1.118, 17.63), (1.133, 17.61), (1.150, 17.59),
    (0.960, 17.42), (0.985, 17.45), (1.010, 17.48), (1.040, 17.52), (1.066, 17.54), (1.094, 17.56),
    (1.120, 17.58), (1.141, 17.53),
]

giant_branch = [
    (1.172, 17.30), (1.176, 17.25), (1.168, 17.22), (1.181, 17.19), (1.174, 17.14), (1.185, 17.11),
    (1.179, 17.06), (1.189, 17.03), (1.183, 16.98), (1.193, 16.95), (1.187, 16.90), (1.197, 16.87),
    (1.191, 16.82), (1.201, 16.79), (1.195, 16.74), (1.204, 16.71), (1.198, 16.66), (1.208, 16.63),
    (1.202, 16.58), (1.212, 16.55), (1.206, 16.50), (1.215, 16.46), (1.210, 16.42), (1.219, 16.38),
    (1.214, 16.34), (1.224, 16.30), (1.218, 16.26), (1.228, 16.22), (1.222, 16.18), (1.233, 16.14),
    (1.227, 16.10), (1.238, 16.06), (1.232, 16.02), (1.243, 15.98), (1.249, 15.93), (1.256, 15.88),
    (1.163, 17.28), (1.186, 17.24), (1.170, 17.09), (1.196, 17.08), (1.178, 16.93), (1.205, 16.92),
    (1.184, 16.77), (1.213, 16.76), (1.190, 16.61), (1.222, 16.60), (1.199, 16.45), (1.229, 16.44),
    (1.207, 16.29), (1.236, 16.28), (1.216, 16.12),
    (1.166, 17.35), (1.160, 17.20), (1.175, 17.02), (1.182, 16.85), (1.190, 16.70), (1.199, 16.52),
    (1.206, 16.36), (1.214, 16.20), (1.224, 16.06), (1.180, 17.27), (1.192, 17.15), (1.200, 17.00),
    (1.210, 16.84), (1.218, 16.68), (1.226, 16.52), (1.234, 16.36), (1.241, 16.20), (1.252, 16.02),
]

rgb_targets = [
    (1.493, 14.45), (1.481, 14.54), (1.508, 14.54), (1.476, 14.60), (1.425, 14.66), (1.450, 14.70),
    (1.440, 14.78), (1.400, 14.91), (1.429, 15.01), (1.444, 14.98), (1.439, 15.10), (1.379, 15.09),
    (1.393, 15.11), (1.414, 15.12), (1.346, 15.21), (1.337, 15.30), (1.365, 15.29), (1.376, 15.31),
    (1.345, 15.38), (1.365, 15.37), (1.359, 15.43), (1.343, 15.43), (1.326, 15.50), (1.348, 15.51),
    (1.307, 15.54), (1.301, 15.64), (1.319, 15.64), (1.346, 15.64), (1.313, 15.69), (1.284, 15.74),
    (1.289, 15.78), (1.306, 15.77), (1.281, 15.95), (1.252, 16.10), (1.272, 16.12),
]

rc_targets = [
    (1.318, 14.48), (1.327, 14.52), (1.335, 14.51), (1.345, 14.51), (1.338, 14.56), (1.351, 14.60),
    (1.362, 14.51), (1.364, 14.57), (1.373, 14.60), (1.377, 14.64), (1.384, 14.53), (1.382, 14.58),
    (1.411, 14.54), (1.409, 14.60), (1.412, 14.66), (1.407, 14.81), (1.355, 14.55), (1.370, 14.53),
]

x_ticks = [0.8, 0.9, 1.0, 1.1, 1.2, 1.3, 1.4, 1.5, 1.6]
x_tick_labels = ["0.8", "0.9", "1", "1.1", "1.2", "1.3", "1.4", "1.5", "1.6"]
y_ticks = [13, 14, 15, 16, 17, 18, 19, 20]

orange = "#ff6a0e"
blue = "#3d9cff"
star_color = "#1c1c1c"

photometry = np.array(upper_field + mid_field + low_field + turnoff + main_seq + main_seq_b
                      + main_seq_halo + subgiant + giant_branch + rgb_targets + rc_targets)
rgb = np.array(rgb_targets)
rc = np.array(rc_targets)

fig = plt.figure(figsize=(6.73, 8.11), dpi=100)

# slide background: blue frame with white panel
bg = fig.add_axes([0, 0, 1, 1], zorder=-10)
grad = np.linspace(0, 1, 256).reshape(-1, 1)
bg.imshow(grad, aspect="auto", extent=[0, 1, 0, 1], origin="upper",
          cmap=matplotlib.colors.LinearSegmentedColormap.from_list("slide", ["#0a1c7e", "#0b34c6"]))
bg.add_patch(Rectangle((21 / 673, 0), 1, (811 - 9) / 811, color="white", transform=bg.transAxes))
bg.add_patch(Polygon([(270 / 673, 1 - 9 / 811), (278 / 673, 1 - 9 / 811), (288 / 673, 1), (280 / 673, 1)],
                     closed=True, color="#d8dcef", transform=bg.transAxes))
bg.set_xlim(0, 1)
bg.set_ylim(0, 1)
bg.axis("off")

ax = fig.add_axes([85 / 673, 54 / 811, 520 / 673, 726 / 811])
ax.plot(photometry[:, 0], photometry[:, 1], "x", color=star_color, ms=3.5, mew=0.8, alpha=0.9)
ax.plot(rgb[:, 0], rgb[:, 1], "s", mfc="none", mec=blue, ms=8.5, mew=1.4)
ax.plot(rc[:, 0], rc[:, 1], "o", mfc="none", mec=orange, ms=8.5, mew=1.8)

ax.set_xlim(0.75, 1.7)
ax.set_ylim(20, 13)
ax.set_xticks(x_ticks)
ax.set_xticklabels(x_tick_labels)
ax.set_yticks(y_ticks)
ax.tick_params(direction="in", length=5, width=0.9, labelsize=11.5, pad=5, colors="black")
ax.spines["top"].set_visible(False)
ax.spines["right"].set_visible(False)
for s in ("left", "bottom"):
    ax.spines[s].set_linewidth(0.9)
ax.set_facecolor("none")
ax.set_xlabel("B\u2212V", fontsize=12, labelpad=3)
ax.set_ylabel("V", fontsize=12, labelpad=5)

ax.text(0.795, 0.204, "NGC6791", transform=ax.transAxes, fontsize=16)

handles = [
    Line2D([], [], ls="none", marker="x", color="#8c8c8c", ms=6, mew=0.9),
    Line2D([], [], ls="none", marker="s", mfc="none", mec=blue, ms=7, mew=1.2),
    Line2D([], [], ls="none", marker="o", mfc="none", mec=orange, ms=8, mew=1.0),
]
labels = ["Stetson et al. photometry", "RGB stars used in this study", "RC stars used in this study"]
ax.legend(handles, labels, loc="upper left", bbox_to_anchor=(127 / 673, 1 - 39 / 811),
          bbox_transform=fig.transFigure, frameon=False, fontsize=12, borderpad=0,
          borderaxespad=0, handlelength=1.0, handletextpad=1.7, labelspacing=0.05)

fig.savefig("out.png", dpi=100)
